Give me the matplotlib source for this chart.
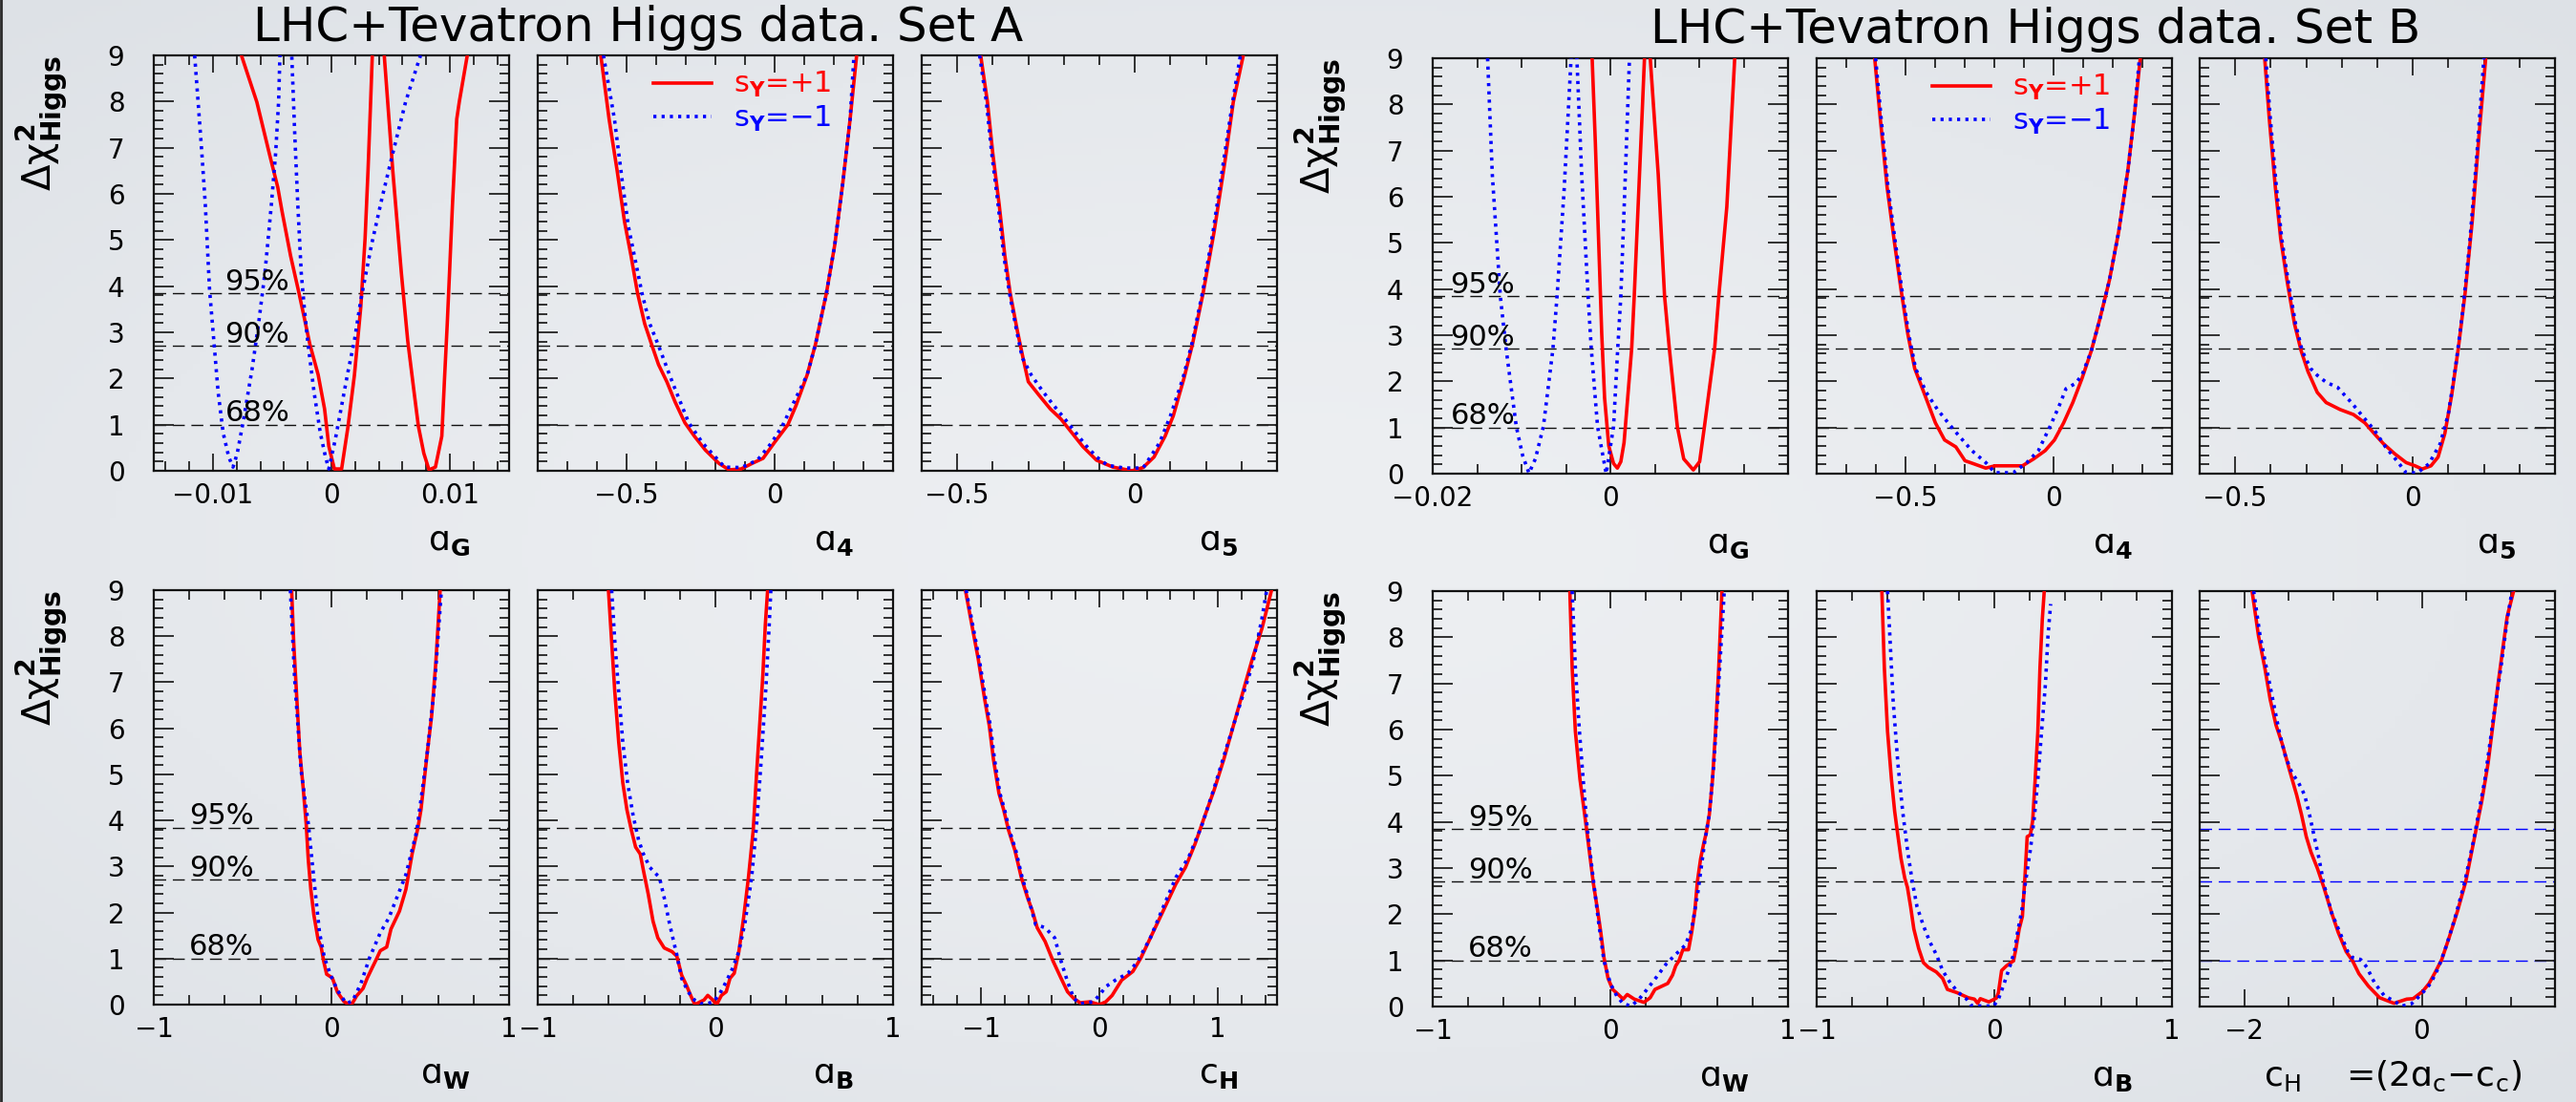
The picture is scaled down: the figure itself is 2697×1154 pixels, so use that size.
import numpy as np
import matplotlib
matplotlib.use('Agg')
import matplotlib.pyplot as plt
from matplotlib.ticker import FixedLocator, FuncFormatter
from matplotlib.lines import Line2D

plt.rcParams['font.family'] = 'DejaVu Sans'
plt.rcParams['mathtext.fontset'] = 'dejavusans'

# ---- Delta chi^2 profiles, s_gamma = +1 (pos) and s_gamma = -1 (neg) ----
# Set A, a_G  (values above 9 mark where the curve leaves the frame)
A_aG_pos_x = [-0.0076, -0.0063, -0.00525, -0.00453, -0.00417, -0.00345, -0.00273, -0.00219, -0.00183,
              -0.00112, -0.00058, -0.00022, 0.00025, 0.00086, 0.0014, 0.00194, 0.00248, 0.00284, 0.00309,
              0.00331, 0.00345, 0.0040, 0.00446, 0.00518, 0.0059, 0.00644, 0.00698, 0.00734, 0.0078,
              0.00824, 0.00878, 0.00932, 0.00955, 0.00978, 0.00997, 0.01022, 0.01058, 0.0108, 0.01147]
A_aG_pos_y = [9.0, 7.99, 6.88, 6.14, 5.62, 4.66, 3.84, 3.19, 2.75, 2.08, 1.34, 0.53, 0.04, 0.04, 0.96, 2.07,
              3.55, 5.03, 6.51, 8.0, 9.0, 10.5, 9.0, 6.5, 4.3, 2.82, 1.70, 0.97, 0.38, 0.02, 0.08, 0.75, 2.0,
              3.19, 4.29, 5.77, 7.62, 8.0, 9.0]
A_aG_neg_x = [-0.01155, -0.01126, -0.01094, -0.01065, -0.01029, -0.00993, -0.00957, -0.00914, -0.00867,
              -0.00831, -0.00795, -0.00741, -0.00669, -0.00615, -0.00561, -0.00507, -0.00471, -0.00446,
              -0.00435, -0.0039, -0.00335, -0.00309, -0.00284, -0.00255, -0.0023, -0.00201, -0.00147,
              -0.00094, -0.0005, -0.00022, 0.00032, 0.00086, 0.0014, 0.00194, 0.00248, 0.00338, 0.00428,
              0.00518, 0.00626, 0.00752]
A_aG_neg_y = [9.0, 8.0, 6.88, 5.77, 3.92, 2.82, 1.71, 0.82, 0.30, 0.08, 0.38, 1.12, 2.22, 3.19, 4.3, 5.77,
              6.88, 8.0, 9.0, 10.5, 9.0, 7.25, 5.77, 4.29, 3.56, 2.82, 1.71, 0.82, 0.30, 0.04, 0.67, 1.41,
              2.15, 2.82, 3.70, 4.89, 5.92, 6.88, 7.99, 9.0]

# Set A, a_4
A_a4_pos_x = [-0.587, -0.559, -0.532, -0.507, -0.485, -0.463, -0.439, -0.414, -0.392, -0.364, -0.336, -0.303,
              -0.271, -0.234, -0.188, -0.154, -0.113, -0.076, -0.039, -0.002, 0.045, 0.072, 0.11, 0.138,
              0.175, 0.203, 0.230, 0.255, 0.277]
A_a4_pos_y = [9.0, 7.62, 6.51, 5.40, 4.66, 3.85, 3.19, 2.71, 2.30, 1.93, 1.49, 1.04, 0.75, 0.45, 0.16, 0.02,
              0.04, 0.16, 0.27, 0.6, 1.0, 1.41, 2.08, 2.74, 3.85, 4.89, 6.22, 7.62, 9.0]
A_a4_neg_x = [-0.578, -0.541, -0.515, -0.494, -0.448, -0.422, -0.392, -0.346, -0.29, -0.243, -0.169, -0.113,
              -0.058, -0.011, 0.026, 0.054, 0.11, 0.138, 0.175, 0.203, 0.230, 0.255, 0.268]
A_a4_neg_y = [9.0, 7.62, 6.3, 5.3, 3.85, 3.19, 2.71, 1.93, 1.04, 0.6, 0.08, 0.07, 0.23, 0.6, 0.97, 1.34, 2.08,
              2.74, 3.85, 4.89, 6.22, 7.62, 9.0]

# Set A, a_5
A_a5_pos_x = [-0.434, -0.415, -0.4, -0.382, -0.366, -0.351, -0.331, -0.315, -0.3, -0.269, -0.238, -0.208,
              -0.177, -0.146, -0.108, -0.062, -0.008, 0.023, 0.054, 0.085, 0.108, 0.138, 0.162, 0.192, 0.223,
              0.254, 0.277, 0.305]
A_a5_pos_y = [9.0, 7.99, 6.88, 5.77, 4.66, 3.85, 3.04, 2.45, 1.93, 1.63, 1.34, 1.12, 0.82, 0.52, 0.23, 0.08,
              0.0, 0.07, 0.30, 0.75, 1.19, 2.0, 2.74, 3.85, 5.18, 6.73, 7.99, 9.0]
A_a5_neg_x = [-0.437, -0.418, -0.403, -0.385, -0.369, -0.353, -0.333, -0.317, -0.292, -0.262, -0.232, -0.2,
              -0.169, -0.138, -0.108, -0.077, -0.03, 0.023, 0.069, 0.1, 0.135, 0.16, 0.19, 0.22, 0.25, 0.275,
              0.297]
A_a5_neg_y = [9.0, 7.99, 6.88, 5.77, 4.66, 3.85, 3.04, 2.45, 2.08, 1.75, 1.45, 1.15, 0.85, 0.55, 0.3, 0.12,
              0.06, 0.06, 0.6, 1.19, 2.0, 2.74, 3.85, 5.18, 6.73, 7.99, 9.0]

# Set A, a_W
A_aW_pos_x = [-0.224, -0.212, -0.195, -0.178, -0.159, -0.142, -0.13, -0.116, -0.099, -0.075, -0.058, -0.043,
              -0.027, 0.005, 0.034, 0.07, 0.094, 0.118, 0.142, 0.178, 0.202, 0.227, 0.251, 0.275, 0.311, 0.335,
              0.383, 0.419, 0.455, 0.487, 0.504, 0.54, 0.564, 0.588, 0.612]
A_aW_pos_y = [9.0, 7.84, 6.66, 5.49, 4.70, 3.92, 3.13, 2.5, 1.95, 1.41, 1.25, 0.93, 0.66, 0.58, 0.27, 0.07,
              0.01, 0.03, 0.19, 0.35, 0.58, 0.78, 0.97, 1.17, 1.25, 1.64, 2.03, 2.5, 3.29, 3.84, 4.23, 5.49,
              6.27, 7.45, 9.0]
A_aW_neg_x = [-0.231, -0.207, -0.171, -0.13, -0.099, -0.067, -0.039, -0.002, 0.034, 0.082, 0.118, 0.166,
              0.214, 0.275, 0.323, 0.371, 0.419, 0.48, 0.54, 0.58, 0.619]
A_aW_neg_y = [9.0, 7.06, 5.09, 3.92, 2.74, 1.56, 1.01, 0.62, 0.31, 0.03, 0.07, 0.46, 1.01, 1.56, 1.88, 2.35,
              2.82, 3.76, 5.49, 6.9, 9.0]

# Set A, a_B
A_aB_pos_x = [-0.602, -0.584, -0.566, -0.544, -0.521, -0.498, -0.473, -0.449, -0.423, -0.405, -0.378, -0.351,
              -0.324, -0.288, -0.244, -0.217, -0.19, -0.163, -0.136, -0.115, -0.086, -0.064, -0.043, -0.02,
              0.007, 0.034, 0.061, 0.082, 0.106, 0.132, 0.159, 0.186, 0.213, 0.231, 0.249, 0.267, 0.281, 0.294]
A_aB_pos_y = [9.0, 7.88, 6.78, 5.69, 4.81, 4.23, 3.79, 3.42, 3.27, 2.91, 2.40, 1.81, 1.45, 1.23, 1.15, 1.05,
              0.64, 0.42, 0.17, 0.0, 0.06, 0.1, 0.2, 0.12, 0.0, 0.2, 0.28, 0.57, 0.68, 1.15, 1.89, 2.76, 3.79,
              4.96, 6.05, 7.15, 8.25, 9.0]
A_aB_neg_x = [-0.584, -0.566, -0.544, -0.521, -0.494, -0.462, -0.432, -0.405, -0.369, -0.315, -0.288, -0.261,
              -0.235, -0.217, -0.19, -0.154, -0.118, -0.082, -0.047, -0.011, 0.025, 0.061, 0.097, 0.132,
              0.168, 0.204, 0.231, 0.258, 0.285, 0.303, 0.312]
A_aB_neg_y = [9.0, 7.88, 6.78, 5.69, 4.81, 4.08, 3.57, 3.27, 2.98, 2.76, 2.32, 1.81, 1.37, 1.08, 0.57, 0.28,
              0.1, 0.02, 0.02, 0.06, 0.24, 0.5, 0.79, 1.15, 1.81, 2.76, 3.86, 5.32, 6.93, 8.25, 9.0]

# Set A, c_H
A_cH_pos_x = [-1.131, -1.077, -1.023, -0.969, -0.929, -0.894, -0.848, -0.808, -0.767, -0.713, -0.659, -0.606,
              -0.565, -0.525, -0.458, -0.39, -0.323, -0.269, -0.215, -0.162, -0.081, -0.027, 0.0, 0.054, 0.108,
              0.188, 0.283, 0.35, 0.431, 0.538, 0.646, 0.727, 0.808, 0.888, 0.969, 1.05, 1.131, 1.211, 1.292,
              1.373, 1.454]
A_cH_pos_y = [9.0, 8.25, 7.51, 6.64, 6.05, 5.32, 4.59, 4.23, 3.79, 3.35, 2.76, 2.32, 2.03, 1.67, 1.37, 0.94,
              0.57, 0.28, 0.13, 0.04, 0.06, 0.02, 0.0, 0.06, 0.2, 0.53, 0.72, 1.01, 1.45, 2.03, 2.62, 2.98,
              3.49, 4.08, 4.66, 5.32, 6.05, 6.78, 7.51, 8.17, 9.0]
A_cH_neg_x = [-1.125, -1.07, -1.015, -0.96, -0.92, -0.885, -0.84, -0.8, -0.76, -0.706, -0.652, -0.6, -0.538,
              -0.458, -0.377, -0.323, -0.269, -0.215, -0.162, -0.054, 0.0, 0.054, 0.135, 0.242, 0.323, 0.431,
              0.538, 0.646, 0.754, 0.861, 0.969, 1.076, 1.184, 1.292, 1.373, 1.413]
A_cH_neg_y = [9.0, 8.25, 7.51, 6.64, 6.05, 5.32, 4.59, 4.23, 3.79, 3.35, 2.76, 2.32, 1.74, 1.67, 1.45, 0.94,
              0.5, 0.13, 0.02, 0.06, 0.2, 0.39, 0.53, 0.68, 0.94, 1.45, 2.11, 2.76, 3.2, 3.86, 4.7, 5.6, 6.49,
              7.37, 8.39, 9.0]

# Set B, a_G
B_aG_pos_x = [-0.00205, -0.00169, -0.00133, -0.00097, -0.00065, -0.00018, 0.00036, 0.00079, 0.00118, 0.00154,
              0.00169, 0.0024, 0.00269, 0.0032, 0.00359, 0.00384, 0.0041, 0.00449, 0.00539, 0.0061, 0.00664,
              0.00754, 0.00826, 0.00934, 0.01005, 0.01059, 0.01174, 0.01221, 0.01311, 0.014]
B_aG_pos_y = [9.0, 7.17, 5.09, 3.02, 1.64, 0.60, 0.22, 0.12, 0.26, 0.67, 1.02, 2.71, 3.85, 6.13, 7.86, 9.0,
              10.0, 9.0, 6.48, 3.85, 2.71, 1.02, 0.32, 0.08, 0.26, 1.02, 2.71, 3.85, 5.78, 9.0]
B_aG_neg_x = [-0.01382, -0.01329, -0.01239, -0.01174, -0.01059, -0.00987, -0.00916, -0.00844, -0.00754,
              -0.00646, -0.006, -0.00521, -0.00442, -0.0041, -0.00377, -0.00323, -0.00251, -0.00215, -0.00144,
              -0.00047, 0.00036, 0.00083, 0.00118, 0.00169, 0.00215]
B_aG_neg_y = [9.0, 6.48, 3.85, 2.71, 1.02, 0.39, 0.01, 0.32, 1.02, 2.71, 3.85, 6.13, 9.0, 10.0, 9.0, 6.48,
              3.85, 2.71, 1.02, 0.0, 1.02, 2.71, 3.85, 6.48, 9.0]

# Set B, a_4
B_a4_pos_x = [-0.604, -0.585, -0.562, -0.539, -0.515, -0.492, -0.469, -0.438, -0.399, -0.368, -0.33, -0.299,
              -0.268, -0.229, -0.198, -0.152, -0.105, -0.067, -0.028, 0.003, 0.034, 0.065, 0.096, 0.127, 0.158,
              0.189, 0.22, 0.251, 0.274, 0.293]
B_a4_pos_y = [9.0, 7.68, 6.2, 5.09, 3.98, 3.02, 2.28, 1.76, 1.10, 0.73, 0.58, 0.28, 0.21, 0.12, 0.17, 0.17,
              0.17, 0.32, 0.50, 0.73, 1.10, 1.54, 2.06, 2.65, 3.39, 4.2, 5.24, 6.57, 7.83, 9.0]
B_a4_neg_x = [-0.601, -0.582, -0.559, -0.536, -0.512, -0.489, -0.466, -0.43, -0.392, -0.337, -0.276, -0.229,
              -0.198, -0.136, -0.09, -0.051, -0.012, 0.019, 0.042, 0.073, 0.096, 0.127, 0.158, 0.189, 0.22,
              0.251, 0.274, 0.29]
B_a4_neg_y = [9.0, 7.68, 6.2, 5.09, 3.98, 3.02, 2.28, 1.76, 1.39, 0.95, 0.5, 0.24, 0.02, 0.02, 0.24, 0.5,
              1.02, 1.47, 1.84, 1.95, 2.13, 2.65, 3.39, 4.2, 5.24, 6.57, 7.83, 9.0]

# Set B, a_5
B_a5_pos_x = [-0.417, -0.404, -0.387, -0.372, -0.353, -0.333, -0.314, -0.295, -0.269, -0.244, -0.205, -0.167,
              -0.135, -0.109, -0.083, -0.051, -0.019, 0.006, 0.026, 0.051, 0.071, 0.09, 0.109, 0.128, 0.147,
              0.167, 0.186, 0.205]
B_a5_pos_y = [9.0, 7.68, 6.2, 5.09, 4.13, 3.24, 2.65, 2.21, 1.76, 1.54, 1.39, 1.28, 1.10, 0.87, 0.65, 0.43,
              0.24, 0.17, 0.1, 0.17, 0.36, 0.87, 1.69, 2.72, 3.91, 5.46, 7.31, 9.0]
B_a5_neg_x = [-0.414, -0.401, -0.384, -0.369, -0.35, -0.33, -0.311, -0.288, -0.269, -0.244, -0.212, -0.173,
              -0.141, -0.109, -0.077, -0.045, -0.019, 0.013, 0.045, 0.077, 0.1, 0.12, 0.14, 0.16, 0.18, 0.2]
B_a5_neg_y = [9.0, 7.68, 6.2, 5.09, 4.13, 3.24, 2.65, 2.28, 2.13, 1.98, 1.87, 1.54, 1.24, 0.95, 0.58, 0.28,
              0.02, 0.02, 0.21, 0.65, 1.3, 2.3, 3.5, 5.0, 6.9, 9.0]

# Set B, a_W
B_aW_pos_x = [-0.228, -0.215, -0.197, -0.171, -0.147, -0.131, -0.113, -0.095, -0.072, -0.054, -0.036, -0.013,
              0.013, 0.045, 0.072, 0.095, 0.135, 0.189, 0.224, 0.251, 0.323, 0.35, 0.368, 0.386, 0.408, 0.44,
              0.458, 0.476, 0.49, 0.508, 0.526, 0.539, 0.557, 0.575, 0.592, 0.61, 0.628]
B_aW_pos_y = [9.0, 7.34, 5.96, 4.92, 4.23, 3.75, 3.2, 2.65, 2.09, 1.61, 1.06, 0.61, 0.37, 0.26, 0.16, 0.26,
              0.16, 0.09, 0.19, 0.37, 0.5, 0.68, 0.88, 0.99, 1.23, 1.23, 1.61, 2.09, 2.71, 3.2, 3.54, 3.75,
              4.16, 4.92, 5.96, 7.34, 9.0]
B_aW_neg_x = [-0.215, -0.197, -0.174, -0.153, -0.131, -0.099, -0.066, -0.036, 0.0, 0.036, 0.072, 0.117, 0.162,
              0.206, 0.26, 0.314, 0.368, 0.422, 0.458, 0.494, 0.53, 0.557, 0.583, 0.61, 0.637, 0.641]
B_aW_neg_y = [9.0, 7.34, 5.96, 4.92, 3.89, 2.85, 1.82, 0.99, 0.5, 0.23, 0.06, 0.01, 0.16, 0.37, 0.64, 0.92,
              1.13, 1.33, 1.68, 2.51, 3.54, 4.16, 5.27, 7.0, 8.72, 9.0]

# Set B, a_B
B_aB_pos_x = [-0.633, -0.619, -0.601, -0.579, -0.561, -0.547, -0.525, -0.504, -0.489, -0.471, -0.453, -0.426,
              -0.399, -0.372, -0.327, -0.291, -0.264, -0.21, -0.147, -0.112, -0.094, -0.079, -0.031, 0.011,
              0.023, 0.041, 0.068, 0.108, 0.122, 0.14, 0.158, 0.173, 0.185, 0.203, 0.216, 0.23, 0.245, 0.257,
              0.27, 0.281]
B_aB_pos_y = [9.0, 7.34, 5.96, 4.92, 4.23, 3.82, 3.2, 2.78, 2.58, 2.16, 1.68, 1.26, 0.95, 0.85, 0.75, 0.61,
              0.37, 0.3, 0.19, 0.16, 0.07, 0.17, 0.10, 0.18, 0.3, 0.78, 0.88, 0.99, 1.26, 1.68, 1.95, 2.85,
              3.68, 3.72, 4.03, 4.92, 5.96, 7.34, 8.38, 9.0]
B_aB_neg_x = [-0.601, -0.588, -0.57, -0.543, -0.516, -0.489, -0.462, -0.435, -0.399, -0.363, -0.327, -0.291,
              -0.246, -0.201, -0.156, -0.129, -0.058, -0.004, 0.023, 0.05, 0.086, 0.113, 0.131, 0.155, 0.176,
              0.203, 0.227, 0.245, 0.266, 0.288, 0.302, 0.317]
B_aB_neg_y = [9.0, 8.03, 6.65, 5.27, 4.23, 3.4, 2.71, 2.16, 1.75, 1.40, 1.13, 0.78, 0.5, 0.3, 0.16, 0.02,
              0.01, 0.01, 0.16, 0.44, 0.85, 1.19, 1.61, 2.09, 2.71, 3.4, 4.16, 4.92, 5.96, 7.0, 8.03, 8.72]

# Set B, c_H = 2a_C - c_C
B_cH_pos_x = [-1.91, -1.838, -1.767, -1.706, -1.641, -1.569, -1.49, -1.408, -1.354, -1.3, -1.246, -1.174,
              -1.102, -1.013, -0.941, -0.851, -0.779, -0.707, -0.6, -0.474, -0.312, -0.169, -0.097, 0.011,
              0.083, 0.154, 0.226, 0.316, 0.406, 0.496, 0.603, 0.675, 0.747, 0.801, 0.855, 0.908, 0.962, 1.034]
B_cH_pos_y = [9.0, 8.03, 7.34, 6.65, 6.1, 5.68, 5.13, 4.58, 4.16, 3.68, 3.34, 2.99, 2.58, 2.02, 1.61, 1.19,
              0.99, 0.71, 0.44, 0.19, 0.07, 0.16, 0.17, 0.33, 0.5, 0.75, 1.02, 1.54, 2.09, 2.71, 3.75, 4.44,
              5.27, 6.1, 6.93, 7.69, 8.45, 9.0]
B_cH_neg_x = [-1.892, -1.82, -1.749, -1.677, -1.605, -1.533, -1.461, -1.39, -1.318, -1.264, -1.21, -1.156,
              -1.102, -1.013, -0.923, -0.833, -0.779, -0.689, -0.618, -0.528, -0.42, -0.312, -0.223, -0.115,
              -0.007, 0.1, 0.19, 0.28, 0.37, 0.478, 0.585, 0.711, 0.801, 0.891, 0.962, 1.016]
B_cH_neg_y = [9.0, 8.03, 7.34, 6.65, 5.96, 5.41, 5.06, 4.86, 4.58, 4.16, 3.68, 3.2, 2.65, 2.02, 1.61, 1.19,
              1.06, 1.02, 0.85, 0.5, 0.23, 0.12, 0.01, 0.06, 0.26, 0.5, 0.85, 1.33, 1.89, 2.65, 3.61, 4.92,
              6.17, 7.34, 8.38, 9.0]

# confidence levels for one parameter
cl_levels = [1.0, 2.71, 3.84]
cl_names = ['68%', '90%', '95%']

titles = ['LHC+Tevatron Higgs data. Set A', 'LHC+Tevatron Higgs data. Set B']
legend_labels = ['s$_{\\mathbf{Y}}$=+1', 's$_{\\mathbf{Y}}$=\u22121']

RED = '#ff0000'
BLUE = '#0000ff'

W, H = 2697, 1154
fig = plt.figure(figsize=(W / 100, H / 100), dpi=100)

# slide background, slightly darker towards the corners
bg = fig.add_axes([0, 0, 1, 1], zorder=-10)
gx, gy = np.meshgrid(np.linspace(-1, 1, 400), np.linspace(-1, 1, 200))
r = np.clip(np.sqrt(gx ** 2 + gy ** 2) / np.sqrt(2), 0, 1) ** 1.6
c0 = np.array([237, 239, 242]) / 255.0
c1 = np.array([221, 225, 230]) / 255.0
bg.imshow(c0 + (c1 - c0) * r[..., None], aspect='auto', extent=[0, 1, 0, 1])
bg.set_axis_off()
fig.add_artist(Line2D([0.0005, 0.0005], [0, 1], transform=fig.transFigure, color='#2a2a2a', lw=2))


def fmt_tick(v, pos=None):
    if abs(v) < 1e-12:
        return '0'
    return ('%g' % v).replace('-', '\u2212')


# pixel layout of the panels: (left, top, bottom) for each row/set, common width
col_left = {'A': [161, 563, 965], 'B': [1500, 1902, 2303]}
row_tb = {('A', 0): (58, 493), ('B', 0): (61, 496), ('A', 1): (618, 1052), ('B', 1): (619, 1054)}
panel_w = 372

panels = {
    'A': [
        [dict(xlim=(-0.015, 0.015), major=[-0.01, 0, 0.01], minor=np.arange(-0.014, 0.0141, 0.002),
              pos=(A_aG_pos_x, A_aG_pos_y), neg=(A_aG_neg_x, A_aG_neg_y), label='\u0251$_{\\mathbf{G}}$', pct=0.20),
         dict(xlim=(-0.8, 0.4), major=[-0.5, 0], minor=np.arange(-0.7, 0.35, 0.1),
              pos=(A_a4_pos_x, A_a4_pos_y), neg=(A_a4_neg_x, A_a4_neg_y), label='\u0251$_{\\mathbf{4}}$', legend=True),
         dict(xlim=(-0.6, 0.4), major=[-0.5, 0], minor=np.arange(-0.5, 0.35, 0.1),
              pos=(A_a5_pos_x, A_a5_pos_y), neg=(A_a5_neg_x, A_a5_neg_y), label='\u0251$_{\\mathbf{5}}$')],
        [dict(xlim=(-1, 1), major=[-1, 0, 1], minor=np.arange(-0.8, 0.85, 0.2),
              pos=(A_aW_pos_x, A_aW_pos_y), neg=(A_aW_neg_x, A_aW_neg_y), label='\u0251$_{\\mathbf{W}}$', pct=0.10),
         dict(xlim=(-1, 1), major=[-1, 0, 1], minor=np.arange(-0.8, 0.85, 0.2),
              pos=(A_aB_pos_x, A_aB_pos_y), neg=(A_aB_neg_x, A_aB_neg_y), label='\u0251$_{\\mathbf{B}}$'),
         dict(xlim=(-1.5, 1.5), major=[-1, 0, 1], minor=np.arange(-1.4, 1.45, 0.2),
              pos=(A_cH_pos_x, A_cH_pos_y), neg=(A_cH_neg_x, A_cH_neg_y), label='c$_{\\mathbf{H}}$')],
    ],
    'B': [
        [dict(xlim=(-0.02, 0.02), major=[-0.02, 0], minor=np.arange(-0.015, 0.0199, 0.005),
              pos=(B_aG_pos_x, B_aG_pos_y), neg=(B_aG_neg_x, B_aG_neg_y), label='\u0251$_{\\mathbf{G}}$', pct=0.05),
         dict(xlim=(-0.8, 0.4), major=[-0.5, 0], minor=np.arange(-0.7, 0.35, 0.1),
              pos=(B_a4_pos_x, B_a4_pos_y), neg=(B_a4_neg_x, B_a4_neg_y), label='\u0251$_{\\mathbf{4}}$', legend=True),
         dict(xlim=(-0.6, 0.4), major=[-0.5, 0], minor=np.arange(-0.5, 0.35, 0.1),
              pos=(B_a5_pos_x, B_a5_pos_y), neg=(B_a5_neg_x, B_a5_neg_y), label='\u0251$_{\\mathbf{5}}$')],
        [dict(xlim=(-1, 1), major=[-1, 0, 1], minor=np.arange(-0.8, 0.85, 0.2),
              pos=(B_aW_pos_x, B_aW_pos_y), neg=(B_aW_neg_x, B_aW_neg_y), label='\u0251$_{\\mathbf{W}}$', pct=0.10),
         dict(xlim=(-1, 1), major=[-1, 0, 1], minor=np.arange(-0.8, 0.85, 0.2),
              pos=(B_aB_pos_x, B_aB_pos_y), neg=(B_aB_neg_x, B_aB_neg_y), label='\u0251$_{\\mathbf{B}}$'),
         dict(xlim=(-2.5, 1.5), major=[-2, 0], minor=np.arange(-1.5, 1.45, 0.5),
              pos=(B_cH_pos_x, B_cH_pos_y), neg=(B_cH_neg_x, B_cH_neg_y),
              label='c$_{\\mathrm{H}}$    =(2\u0251$_{\\mathrm{c}}$\u2212c$_{\\mathrm{c}}$)', lab_x=0.905,
              cl_color=BLUE)],
    ],
}

for s in ('A', 'B'):
    for row in (0, 1):
        top, bot = row_tb[(s, row)]
        for col, p in enumerate(panels[s][row]):
            left = col_left[s][col]
            ax = fig.add_axes([left / W, 1 - bot / H, panel_w / W, (bot - top) / H])
            ax.set_facecolor('none')
            ax.set_xlim(*p['xlim'])
            ax.set_ylim(0, 9)

            cl_col = p.get('cl_color', '#111111')
            for lev in cl_levels:
                ax.axhline(lev, color=cl_col, lw=1.0, ls=(0, (9, 5)), zorder=1)

            lp, = ax.plot(p['pos'][0], p['pos'][1], color=RED, lw=2.6, solid_joinstyle='round', zorder=3)
            ln, = ax.plot(p['neg'][0], p['neg'][1], color=BLUE, lw=2.6, ls=(0, (0.9, 1.5)),
                          dash_capstyle='butt', zorder=4)

            ax.xaxis.set_major_locator(FixedLocator(p['major']))
            ax.xaxis.set_minor_locator(FixedLocator(list(p['minor'])))
            ax.xaxis.set_major_formatter(FuncFormatter(fmt_tick))
            ax.yaxis.set_major_locator(FixedLocator(range(0, 10)))
            ax.yaxis.set_minor_locator(FixedLocator(np.arange(0, 9.01, 0.2)))
            ax.yaxis.set_major_formatter(FuncFormatter(fmt_tick))

            ax.tick_params(which='both', direction='in', top=True, right=True, color='#222222', width=1.3,
                           labelsize=20)
            ax.tick_params(axis='x', which='major', length=13, pad=9)
            ax.tick_params(axis='x', which='minor', length=7)
            ax.tick_params(axis='y', which='major', length=15, pad=22)
            ax.tick_params(axis='y', which='minor', length=7.5)
            if col > 0:
                ax.tick_params(axis='y', labelleft=False)
            for sp in ax.spines.values():
                sp.set_linewidth(1.6)
                sp.set_color('#111111')

            if col == 0:
                ax.text(-0.315, 1.0, r'$\Delta\mathrm{\chi}^{\mathbf{2}}_{\mathbf{Higgs}}$', rotation=90,
                        ha='center', va='top', fontsize=29, transform=ax.transAxes)
                trans = ax.get_yaxis_transform()
                for lev, name in zip(cl_levels, cl_names):
                    ax.text(p['pct'], lev + 0.07, name, fontsize=22, va='baseline', ha='left', transform=trans,
                            zorder=5)

            ax.text(p.get('lab_x', 0.89), -0.19, p['label'], ha='right', va='baseline', fontsize=26,
                    transform=ax.transAxes)

            if p.get('legend'):
                ax.legend([lp, ln], legend_labels, loc='upper left', bbox_to_anchor=(0.325, 0.965),
                          frameon=False, fontsize=22, handlelength=2.0, handletextpad=0.75,
                          labelspacing=0.15, borderpad=0, borderaxespad=0, labelcolor='linecolor')

fig.text(668 / W, 1 - 29 / H, titles[0], ha='center', va='center', fontsize=36)
fig.text(2131 / W, 1 - 31 / H, titles[1], ha='center', va='center', fontsize=36)

fig.savefig('out.png', dpi=100, facecolor=fig.get_facecolor())
